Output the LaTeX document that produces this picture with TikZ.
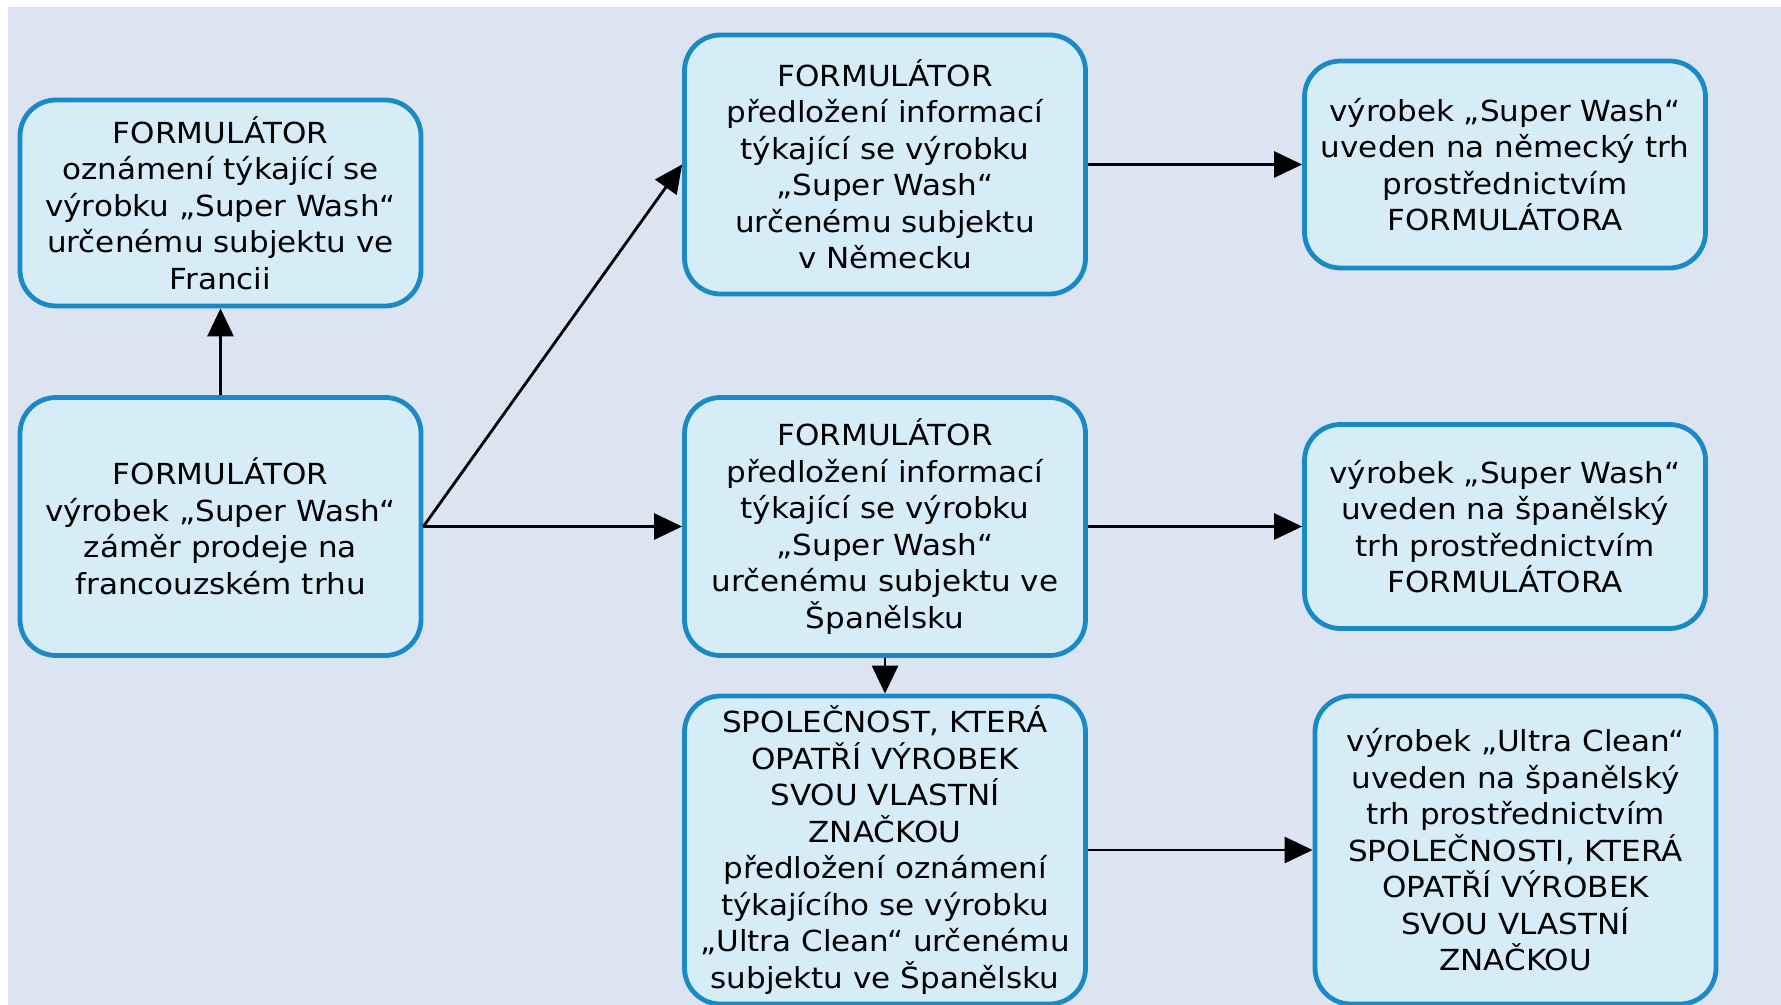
\documentclass[tikz,border=0pt]{standalone}
\usepackage{fontspec}
\setmainfont[FakeStretch=1.07]{DejaVu Sans}
\usetikzlibrary{arrows.meta}
\definecolor{bgc}{HTML}{DBE4F0}
\definecolor{boxfill}{HTML}{D6EDF8}
\definecolor{boxline}{HTML}{1A8AC6}
\tikzset{
  flowbox/.style={draw=boxline, fill=boxfill, line width=2.4pt, rounded corners=18pt,
    align=center, inner sep=0pt, minimum width=200.5pt,
    font=\fontsize{14.5pt}{18.25pt}\selectfont, text=black},
  conn/.style={line width=1.4pt, -{Triangle[length=14pt,width=13pt]}}
}
\begin{document}
\begin{tikzpicture}[x=0.5pt,y=-0.5pt]
\useasboundingbox (0,0) rectangle (1781,1005);
\fill[bgc] (8,7) rectangle (1781,1005);
\node[flowbox, minimum height=103pt] (A) at (220.5,203) {FORMULÁTOR\\oznámení týkající se\\výrobku „Super Wash“\\určenému subjektu ve\\Francii};
\node[flowbox, minimum height=129pt] (B) at (220.5,526.5) {FORMULÁTOR\\výrobek „Super Wash“\\záměr prodeje na\\francouzském trhu};
\node[flowbox, minimum height=129.5pt] (C) at (885,164.5) {FORMULÁTOR\\předložení informací\\týkající se výrobku\\„Super Wash“\\určenému subjektu\\v Německu};
\node[flowbox, minimum height=103.5pt] (D) at (1505,164.5) {výrobek „Super Wash“\\uveden na německý trh\\prostřednictvím\\FORMULÁTORA};
\node[flowbox, minimum height=129pt] (E) at (885,526.5) {FORMULÁTOR\\předložení informací\\týkající se výrobku\\„Super Wash“\\určenému subjektu ve\\Španělsku};
\node[flowbox, minimum height=102pt] (F) at (1505,526.5) {výrobek „Super Wash“\\uveden na španělský\\trh prostřednictvím\\FORMULÁTORA};
\node[flowbox, minimum height=154pt] (G) at (885,850) {SPOLEČNOST, KTERÁ\\OPATŘÍ VÝROBEK\\SVOU VLASTNÍ\\ZNAČKOU\\předložení oznámení\\týkajícího se výrobku\\„Ultra Clean“ určenému\\subjektu ve Španělsku};
\node[flowbox, minimum height=154pt] (H) at (1515.5,850) {výrobek „Ultra Clean“\\uveden na španělský\\trh prostřednictvím\\SPOLEČNOSTI, KTERÁ\\OPATŘÍ VÝROBEK\\SVOU VLASTNÍ\\ZNAČKOU};
\draw[conn] (B.north) -- (A.south);
\draw[conn] (B.east) -- (C.west);
\draw[conn] (B.east) -- (E.west);
\draw[conn] (C.east) -- (D.west);
\draw[conn] (E.east) -- (F.west);
\draw[conn] (E.south) -- (G.north);
\draw[conn] (G.east) -- (H.west);
\end{tikzpicture}
\end{document}
